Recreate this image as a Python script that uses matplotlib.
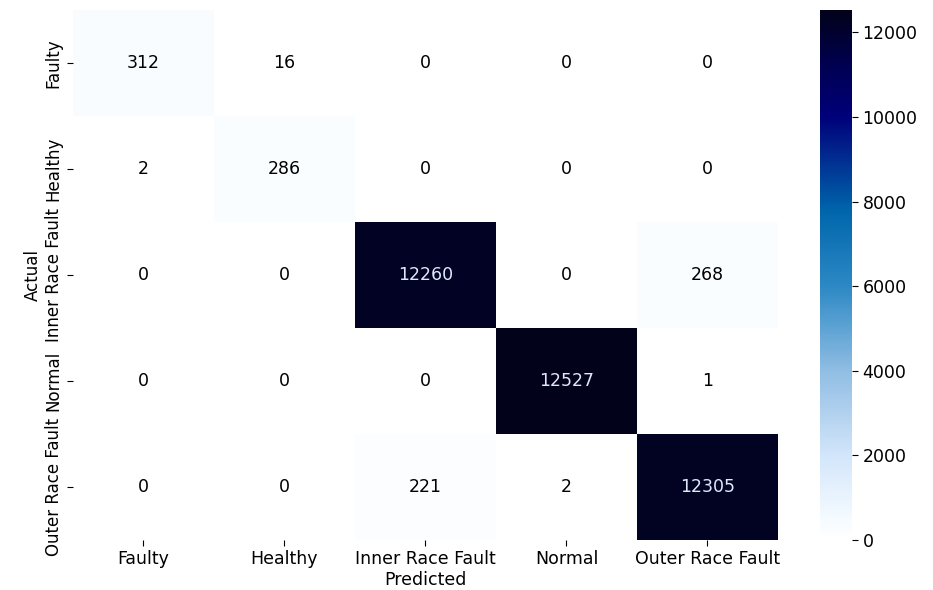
import numpy as np
import matplotlib
matplotlib.use("Agg")
import matplotlib.pyplot as plt
import seaborn as sns
from matplotlib.colors import LinearSegmentedColormap

labels = ["Faulty", "Healthy", "Inner Race Fault", "Normal", "Outer Race Fault"]
row_faulty = [312, 16, 0, 0, 0]
row_healthy = [2, 286, 0, 0, 0]
row_inner = [0, 0, 12260, 0, 268]
row_normal = [0, 0, 0, 12527, 1]
row_outer = [0, 0, 221, 2, 12305]
cbar_ticks = [0, 2000, 4000, 6000, 8000, 10000, 12000]

cm = np.array([row_faulty, row_healthy, row_inner, row_normal, row_outer])

# contrast-boosted blues, as seen in the picture
cmap = LinearSegmentedColormap.from_list("blues_hc", [
    (0.00, "#ffffff"),
    (0.04, "#f4faff"),
    (0.16, "#d2e5fa"),
    (0.32, "#8fbde3"),
    (0.48, "#2c88c4"),
    (0.62, "#0066ac"),
    (0.80, "#00007a"),
    (0.90, "#000050"),
    (1.00, "#02021a"),
])

fig = plt.figure(figsize=(9.33, 5.9), dpi=100)
ax = fig.add_axes([0.0782, 0.0847, 0.7556, 0.898])
cax = fig.add_axes([0.879, 0.0847, 0.0343, 0.898])

sns.heatmap(cm, annot=True, fmt="d", cmap=cmap, vmin=0, vmax=cm.max(),
            xticklabels=labels, yticklabels=labels, ax=ax, cbar_ax=cax,
            annot_kws={"fontsize": 12.5})

for t in ax.texts:
    if t.get_text() in ("12260", "12527", "12305"):
        t.set_color("#dfe9fb")
    else:
        t.set_color("black")

ax.tick_params(axis="both", labelsize=12.5, length=4)
ax.set_xticklabels(labels, rotation=0, fontsize=12.5)
ax.set_yticklabels(labels, rotation=90, va="center", fontsize=12)
ax.set_xlabel("Predicted", fontsize=12.5, labelpad=2)
ax.set_ylabel("Actual", fontsize=12, labelpad=2)

cax.set_yticks(cbar_ticks)
cax.tick_params(labelsize=12.5, length=4)
for s in cax.spines.values():
    s.set_visible(False)

fig.savefig("out.png", dpi=100)
